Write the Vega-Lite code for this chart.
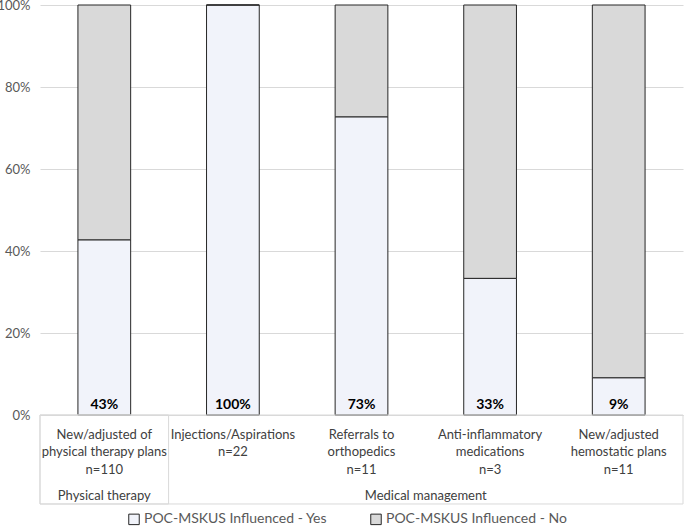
{
  "$schema": "https://vega.github.io/schema/vega-lite/v6.json",
  "autosize": {"type": "none"},
  "width": 643,
  "height": 410,
  "padding": {"left": 40, "top": 5, "right": 2, "bottom": 115},
  "config": {
    "font": "Lato",
    "view": {"stroke": null},
    "axis": {"labelFont": "Lato", "labelFontSize": 13}
  },
  "data": {
    "values": [
      {"cat": "New/adjusted of|physical therapy plans|n=110", "group": "Physical therapy", "status": "POC-MSKUS Influenced - Yes", "ord": 1, "value": 0.4273},
      {"cat": "New/adjusted of|physical therapy plans|n=110", "group": "Physical therapy", "status": "POC-MSKUS Influenced - No", "ord": 2, "value": 0.5727},
      {"cat": "Injections/Aspirations|n=22", "group": "Medical management", "status": "POC-MSKUS Influenced - Yes", "ord": 1, "value": 1.0},
      {"cat": "Injections/Aspirations|n=22", "group": "Medical management", "status": "POC-MSKUS Influenced - No", "ord": 2, "value": 0.0},
      {"cat": "Referrals to|orthopedics|n=11", "group": "Medical management", "status": "POC-MSKUS Influenced - Yes", "ord": 1, "value": 0.7273},
      {"cat": "Referrals to|orthopedics|n=11", "group": "Medical management", "status": "POC-MSKUS Influenced - No", "ord": 2, "value": 0.2727},
      {"cat": "Anti-inflammatory|medications|n=3", "group": "Medical management", "status": "POC-MSKUS Influenced - Yes", "ord": 1, "value": 0.3333},
      {"cat": "Anti-inflammatory|medications|n=3", "group": "Medical management", "status": "POC-MSKUS Influenced - No", "ord": 2, "value": 0.6667},
      {"cat": "New/adjusted|hemostatic plans|n=11", "group": "Medical management", "status": "POC-MSKUS Influenced - Yes", "ord": 1, "value": 0.0909},
      {"cat": "New/adjusted|hemostatic plans|n=11", "group": "Medical management", "status": "POC-MSKUS Influenced - No", "ord": 2, "value": 0.9091}
    ]
  },
  "layer": [
    {
      "mark": {"type": "bar", "width": {"band": 0.41}, "stroke": "#262626", "strokeWidth": 1},
      "encoding": {
        "x": {
          "field": "cat", "type": "nominal", "sort": null,
          "scale": {"paddingInner": 0, "paddingOuter": 0},
          "axis": {
            "title": null, "labelAngle": 0, "ticks": false,
            "domainColor": "#d9d9d9", "labelColor": "#404040",
            "labelExpr": "split(datum.value, '|')",
            "labelLineHeight": 17.5, "labelBaseline": "top", "labelPadding": 13,
            "labelLimit": 200
          }
        },
        "y": {
          "field": "value", "type": "quantitative", "stack": "zero",
          "scale": {"domain": [0, 1], "nice": false},
          "axis": {
            "title": null, "values": [0, 0.2, 0.4, 0.6, 0.8, 1], "format": ".0%",
            "domain": false, "ticks": false, "gridColor": "#d9d9d9",
            "labelColor": "#595959", "labelPadding": 10
          }
        },
        "color": {
          "field": "status", "type": "nominal",
          "scale": {"domain": ["POC-MSKUS Influenced - Yes", "POC-MSKUS Influenced - No"], "range": ["#f1f3fa", "#d9d9d9"]},
          "legend": {
            "title": null, "orient": "none", "legendX": 87, "legendY": 507,
            "direction": "horizontal",
            "symbolType": "square", "symbolSize": 110, "symbolStrokeColor": "#262626",
            "symbolStrokeWidth": 1, "labelFontSize": 14, "labelColor": "#595959",
            "labelFont": "Lato", "labelOffset": 3, "columnPadding": 40, "labelLimit": 300
          }
        },
        "order": {"field": "ord", "type": "quantitative"}
      }
    },
    {
      "transform": [{"filter": "datum.ord == 1"}],
      "mark": {"type": "text", "fontWeight": "bold", "fontSize": 14, "baseline": "bottom", "dy": -3, "color": "#000000"},
      "encoding": {
        "x": {"field": "cat", "type": "nominal", "sort": null},
        "y": {"datum": 0},
        "text": {"field": "value", "type": "quantitative", "format": ".0%"}
      }
    },
    {
      "transform": [{"filter": "datum.ord == 1 && datum.group == 'Physical therapy'"}],
      "mark": {"type": "rect", "fill": null, "fillOpacity": 0, "stroke": "#d9d9d9", "strokeWidth": 1},
      "encoding": {
        "y": {"datum": 0},
        "y2": {"datum": -0.217}
      }
    },
    {
      "transform": [{"filter": "datum.ord == 1 && datum.group == 'Physical therapy'"}],
      "mark": {"type": "bar", "width": {"band": 1}, "fill": null, "fillOpacity": 0, "stroke": "#d9d9d9", "strokeWidth": 1},
      "encoding": {
        "x": {"field": "cat", "type": "nominal", "sort": null},
        "y": {"datum": 0},
        "y2": {"datum": -0.217}
      }
    },
    {
      "transform": [{"filter": "datum.ord == 1 && datum.group == 'Physical therapy'"}],
      "mark": {"type": "text", "fontSize": 13, "color": "#404040", "baseline": "middle"},
      "encoding": {
        "x": {"field": "cat", "type": "nominal", "sort": null, "bandPosition": 0.5},
        "y": {"datum": -0.1976},
        "text": {"field": "group"}
      }
    },
    {
      "transform": [{"filter": "datum.ord == 1 && indexof(datum.cat, 'Referrals') == 0"}],
      "mark": {"type": "text", "fontSize": 13, "color": "#404040", "baseline": "middle"},
      "encoding": {
        "x": {"field": "cat", "type": "nominal", "sort": null, "bandPosition": 1},
        "y": {"datum": -0.1976},
        "text": {"field": "group"}
      }
    }
  ]
}
